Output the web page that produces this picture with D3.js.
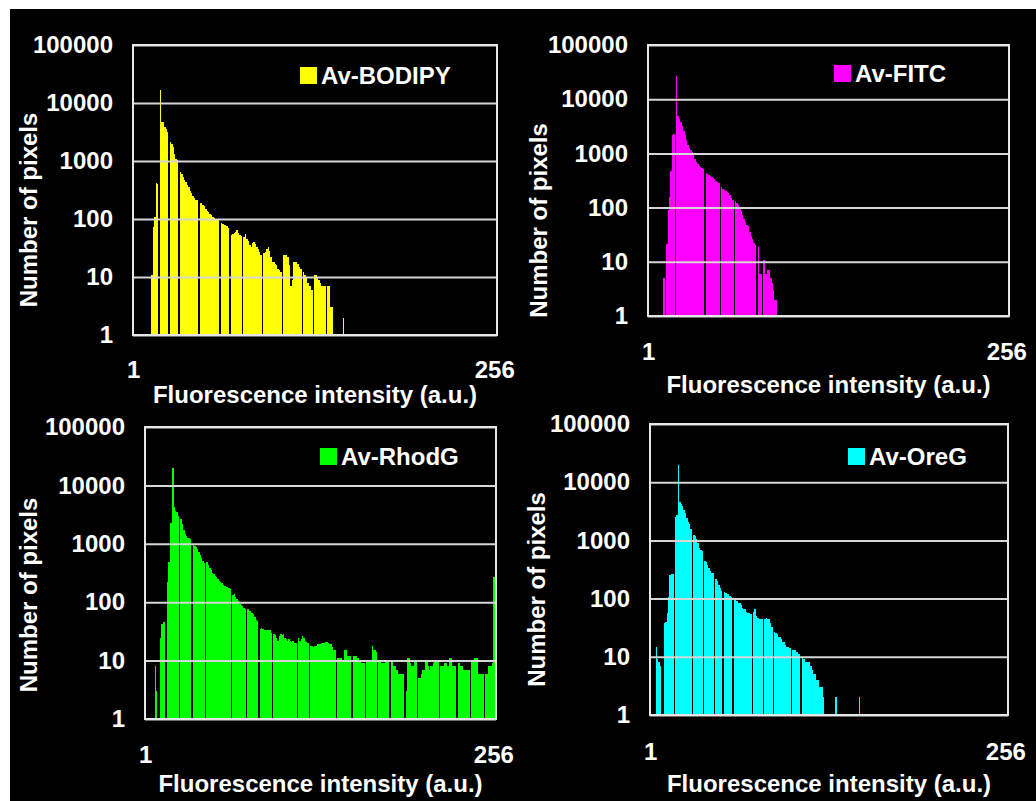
<!DOCTYPE html>
<html>
<head>
<meta charset="utf-8">
<script src="https://cdn.jsdelivr.net/npm/d3@7"></script>
<style>
body { margin: 0; background: #fff; }
text { font-family: "Liberation Sans", Arial, sans-serif; font-weight: bold; font-size: 24px; fill: #fff; }
</style>
</head>
<body>
<svg id="chart"></svg>
<script>
// intensity bins 1..256, counts are read per bin (index 0 = intensity 1)
var intensities = d3.range(1, 257);
var yTickLabels = [1, 10, 100, 1000, 10000, 100000];
var xTickLabels = [1, 256];
var dyeNames = ["Av-BODIPY", "Av-FITC", "Av-RhodG", "Av-OreG"];
var xTitle = "Fluorescence intensity (a.u.)";
var yTitle = "Number of pixels";

var bodipyCounts = [
    0, 0, 0, 0, 0, 0, 0, 0, 0, 0,
    0, 0, 0, 11, 72, 107, 420, 400, 0, 17000,
    4700, 4700, 3900, 3500, 3200, 0, 2100, 2000, 1750, 1300,
    1100, 1040, 0, 650, 600, 520, 470, 430, 380, 350,
    300, 280, 250, 230, 215, 210, 0, 190, 190, 175,
    165, 150, 140, 130, 122, 115, 110, 105, 100, 96,
    95, 0, 85, 82, 80, 78, 76, 70, 0, 53,
    55, 57, 60, 65, 58, 53, 50, 0, 49, 55,
    45, 42, 36, 33, 38, 40, 37, 33, 30, 27,
    24, 0, 26, 27, 30, 33, 28, 22, 18, 18,
    17, 16, 14, 13, 12, 0, 24, 24, 24, 22,
    16, 7, 9, 18, 18, 18, 17, 15, 14, 0,
    12, 11, 10, 8, 7, 7, 6, 0, 11, 11,
    10, 9, 8, 7, 7, 7, 0, 7, 7, 3,
    3, 0, 0, 0, 0, 0, 0, 0, 2
];

var fitcCounts = [
    0, 0, 0, 0, 0, 0, 0, 0, 0, 0,
    0, 5, 0, 21, 90, 160, 470, 2200, 2300, 0,
    27000, 4900, 4300, 3800, 3200, 2600, 2200, 1800, 1400, 1250,
    1150, 1050, 950, 800, 700, 640, 590, 560, 540, 520,
    0, 440, 420, 400, 380, 370, 350, 330, 310, 300,
    290, 0, 240, 225, 215, 205, 195, 185, 170, 150,
    140, 0, 130, 122, 114, 100, 85, 72, 62, 55,
    48, 45, 36, 30, 26, 22, 20, 0, 19, 6,
    6, 0, 11, 6, 6, 7, 7, 5, 4, 3,
    2, 2
];

var rhodgCounts = [
    0, 0, 0, 0, 0, 0, 0, 8, 3, 0,
    0, 24, 43, 46, 46, 0, 224, 490, 2240, 2300,
    19500, 4300, 3700, 3500, 3000, 0, 2700, 2200, 1700, 1500,
    1350, 1280, 1250, 1200, 0, 950, 920, 880, 820, 720,
    650, 570, 510, 465, 0, 480, 430, 380, 350, 320,
    300, 280, 270, 250, 235, 220, 210, 200, 190, 185,
    180, 175, 170, 0, 135, 140, 125, 115, 105, 95,
    90, 85, 80, 78, 0, 75, 72, 70, 66, 62,
    55, 50, 48, 0, 35, 36, 35, 34, 34, 33,
    33, 33, 30, 0, 29, 27, 24, 22, 26, 28,
    27, 28, 24, 23, 22, 23, 22, 21, 22, 20,
    20, 0, 24, 22, 23, 26, 24, 22, 21, 20,
    0, 18, 18, 17, 18, 18, 19, 19, 19, 20,
    20, 20, 21, 21, 20, 19, 19, 17, 15, 15,
    0, 11, 11, 11, 10, 10, 15, 15, 12, 12,
    12, 0, 12, 12, 12, 11, 11, 10, 9, 9,
    9, 0, 10, 10, 10, 10, 18, 15, 15, 14,
    0, 10, 10, 9, 9, 9, 10, 10, 10, 0,
    10, 10, 8, 8, 7, 6, 6, 6, 6, 6,
    0, 3, 11, 11, 9, 8, 8, 10, 10, 0,
    5, 5, 6, 7, 7, 10, 10, 8, 7, 8,
    8, 9, 10, 10, 10, 0, 8, 8, 8, 9,
    9, 8, 8, 11, 11, 8, 8, 8, 0, 9,
    9, 8, 8, 7, 7, 7, 7, 7, 0, 10,
    10, 11, 11, 11, 6, 6, 6, 6, 0, 6,
    6, 8, 8, 8, 9, 270
];

var oregCounts = [
    0, 0, 0, 0, 15, 9, 8, 7, 0, 0,
    38, 40, 56, 108, 255, 260, 260, 0, 2570, 2700,
    19800, 4600, 4200, 3900, 3300, 3000, 2400, 2100, 1900, 1600,
    0, 1240, 1200, 1050, 900, 750, 690, 650, 0, 450,
    420, 380, 330, 300, 280, 270, 0, 220, 200, 170,
    150, 135, 0, 130, 125, 120, 118, 110, 105, 0,
    101, 100, 90, 85, 83, 78, 70, 67, 65, 58,
    56, 56, 54, 0, 60, 67, 50, 46, 45, 45,
    44, 0, 45, 46, 45, 45, 38, 33, 0, 27,
    26, 25, 22, 22, 20, 18, 18, 16, 15, 15,
    14, 0, 13, 13, 13, 12, 11, 11, 0, 10,
    9, 8, 8, 8, 8, 7, 6, 5, 5, 4,
    4, 3, 3, 3, 2, 0, 0, 0, 0, 0,
    0, 0, 0, 2, 0, 0, 0, 0, 0, 0,
    0, 0, 0, 0, 0, 0, 0, 0, 0, 0,
    2
];

// layout of the four panels (pixel boxes)
var panels = [
    { counts: bodipyCounts, name: dyeNames[0], color: "#ffff00",
      left: 133, right: 497, top: 45, bottom: 335,
      xTickY: 43, xTitleY: 68, yTitleX: -96, yTitleShift: 20, legendX: -197, legendY: 22 },
    { counts: fitcCounts, name: dyeNames[1], color: "#ff00ff",
      left: 648, right: 1009, top: 45, bottom: 316,
      xTickY: 44, xTitleY: 77, yTitleX: -101, yTitleShift: 40, legendX: -175, legendY: 20 },
    { counts: rhodgCounts, name: dyeNames[2], color: "#00ff00",
      left: 145, right: 496, top: 427, bottom: 719,
      xTickY: 44, xTitleY: 73, yTitleX: -108, yTitleShift: 22, legendX: -176, legendY: 21 },
    { counts: oregCounts, name: dyeNames[3], color: "#00ffff",
      left: 650, right: 1008, top: 424, bottom: 715,
      xTickY: 45, xTitleY: 77, yTitleX: -105, yTitleShift: 20, legendX: -160, legendY: 24 }
];

var svg = d3.select("#chart")
    .attr("width", 1036)
    .attr("height", 801);

svg.append("rect")
    .attr("x", 10)
    .attr("y", 9)
    .attr("width", 1026)
    .attr("height", 792)
    .attr("fill", "#000");

panels.forEach(function(p) {
    // keep the last bin just inside the frame line
    var xScale = d3.scaleBand()
        .domain(intensities)
        .range([p.left, p.right - 1.5]);

    var yScale = d3.scaleLog()
        .domain([1, 100000])
        .range([p.bottom, p.top]);

    var g = svg.append("g");

    var bins = p.counts
        .map(function(c, i) { return { intensity: i + 1, count: c }; })
        .filter(function(d) { return d.count >= 1; });

    // crisp edges so neighbouring bins join and empty bins show as dark lines
    g.selectAll("rect.bar")
        .data(bins)
        .enter()
        .append("rect")
        .attr("class", "bar")
        .attr("x", d => xScale(d.intensity))
        .attr("width", xScale.bandwidth())
        .attr("y", d => yScale(d.count))
        .attr("height", d => yScale(1) - yScale(d.count))
        .attr("shape-rendering", "crispEdges")
        .attr("fill", p.color);

    // gridlines sit on top of the bars
    g.append("g")
        .attr("transform", `translate(${p.left},0)`)
        .call(d3.axisLeft(yScale).tickValues(yTickLabels).tickSize(-(p.right - p.left)).tickFormat(""))
        .call(a => a.select(".domain").remove())
        .selectAll("line")
        .attr("stroke", "#d6d6d6")
        .attr("stroke-width", 2);

    g.append("rect")
        .attr("x", p.left)
        .attr("y", p.top)
        .attr("width", p.right - p.left)
        .attr("height", p.bottom - p.top)
        .attr("fill", "none")
        .attr("stroke", "#e6e6e6")
        .attr("stroke-width", 2);

    var yAxis = g.append("g")
        .attr("transform", `translate(${p.left},0)`)
        .call(d3.axisLeft(yScale).tickValues(yTickLabels).tickSize(0).tickPadding(20).tickFormat(d3.format("d")));
    yAxis.select(".domain").remove();

    var xAxis = g.append("g")
        .attr("transform", `translate(0,${p.bottom})`)
        .call(d3.axisBottom(xScale).tickValues(xTickLabels).tickSize(0));
    xAxis.select(".domain").remove();
    xAxis.selectAll("text")
        .attr("y", p.xTickY)
        .attr("dy", null);

    g.append("text")
        .attr("x", (p.left + p.right) / 2)
        .attr("y", p.bottom + p.xTitleY)
        .attr("text-anchor", "middle")
        .text(xTitle);

    g.append("text")
        .attr("transform", `translate(${p.left + p.yTitleX},${(p.top + p.bottom) / 2 + p.yTitleShift}) rotate(-90)`)
        .attr("text-anchor", "middle")
        .text(yTitle);

    var legend = g.append("g")
        .attr("transform", `translate(${p.right + p.legendX},${p.top + p.legendY})`);
    legend.append("rect")
        .attr("width", 17)
        .attr("height", 17)
        .attr("fill", p.color);
    legend.append("text")
        .attr("x", 21)
        .attr("y", 17)
        .text(p.name);
});
</script>
</body>
</html>
